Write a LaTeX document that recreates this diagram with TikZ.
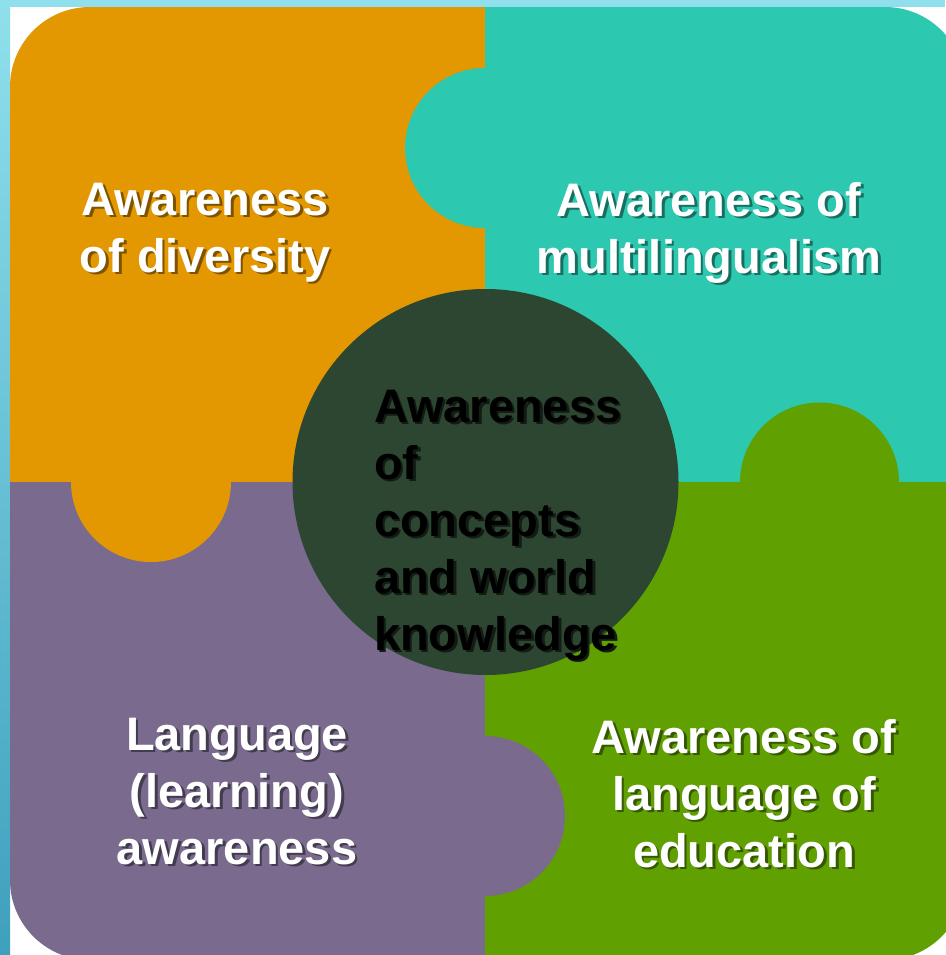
\documentclass[tikz,border=0pt]{standalone}
\usepackage{fontspec}
\setmainfont{Liberation Sans}
% text block with a drop shadow: #1 column spec, #2 shadow colour, #3 lines
\newcommand\dropshadowtext[3]{%
  \leavevmode
  \rlap{\hspace{2.8pt}\raisebox{-2.8pt}{\textcolor{#2}{%
    \begin{tabular}[t]{@{}#1@{}}#3\end{tabular}}}}%
  \begin{tabular}[t]{@{}#1@{}}#3\end{tabular}}
\begin{document}
\definecolor{pzOrange}{HTML}{E39700}
\definecolor{pzTeal}{HTML}{2CC9B0}
\definecolor{pzPurple}{HTML}{7A6B8E}
\definecolor{pzGreen}{HTML}{60A000}
\definecolor{pzCore}{HTML}{2C4631}
\definecolor{frameTop}{HTML}{8FE0EC}
\definecolor{frameBot}{HTML}{3FA0BD}
\colorlet{shOrange}{pzOrange!55!black}
\colorlet{shTeal}{pzTeal!55!black}
\colorlet{shPurple}{pzPurple!55!black}
\colorlet{shGreen}{pzGreen!55!black}
\colorlet{shCore}{pzCore!40!black}
\begin{tikzpicture}[x=1pt,y=-1pt,
  label/.style={inner sep=0pt, outer sep=0pt, anchor=base,
    font=\fontsize{47}{57}\selectfont\bfseries},
  whitelabel/.style={label, text=white},
  corelabel/.style={label, anchor=base west, text=black}]
  \useasboundingbox (0,0) rectangle (945,955);
  % frame
  \fill[white] (0,0) rectangle (945,955);
  \fill[frameTop] (0,0) rectangle (945,7);
  \shade[top color=frameTop, bottom color=frameBot] (0,0) rectangle (10,955);
  % puzzle quarters
  \begin{scope}
    \clip[rounded corners=80] (10,7) rectangle (965,960);
    \fill[pzOrange] (10,7) rectangle (485,482);
    \fill[pzTeal] (485,7) rectangle (965,482);
    \fill[pzPurple] (10,482) rectangle (485,960);
    \fill[pzGreen] (485,482) rectangle (965,960);
    % tabs
    \fill[pzTeal] (485,148) circle[radius=80];
    \fill[pzOrange] (151,482) circle[radius=80];
    \fill[pzGreen] (819.5,482) circle[radius=79.5];
    \fill[pzPurple] (485,816) circle[radius=80];
  \end{scope}
  % centre disc
  \fill[pzCore] (485.5,482) circle[radius=193];
  % labels
  \node[whitelabel] (div) at (205,215)
    {\dropshadowtext{c}{shOrange}{Awareness\\of diversity}};
  \node[whitelabel] (multi) at (709,216)
    {\dropshadowtext{c}{shTeal}{Awareness of\\multilingualism}};
  \node[whitelabel] (lang) at (237,750)
    {\dropshadowtext{c}{shPurple}{Language\\(learning)\\awareness}};
  \node[whitelabel] (edu) at (744,753)
    {\dropshadowtext{c}{shGreen}{Awareness of\\language of\\education}};
  \node[corelabel] (core) at (374,422)
    {\dropshadowtext{l}{shCore}{Awareness\\of\\concepts\\and world\\knowledge}};
\end{tikzpicture}
\end{document}
